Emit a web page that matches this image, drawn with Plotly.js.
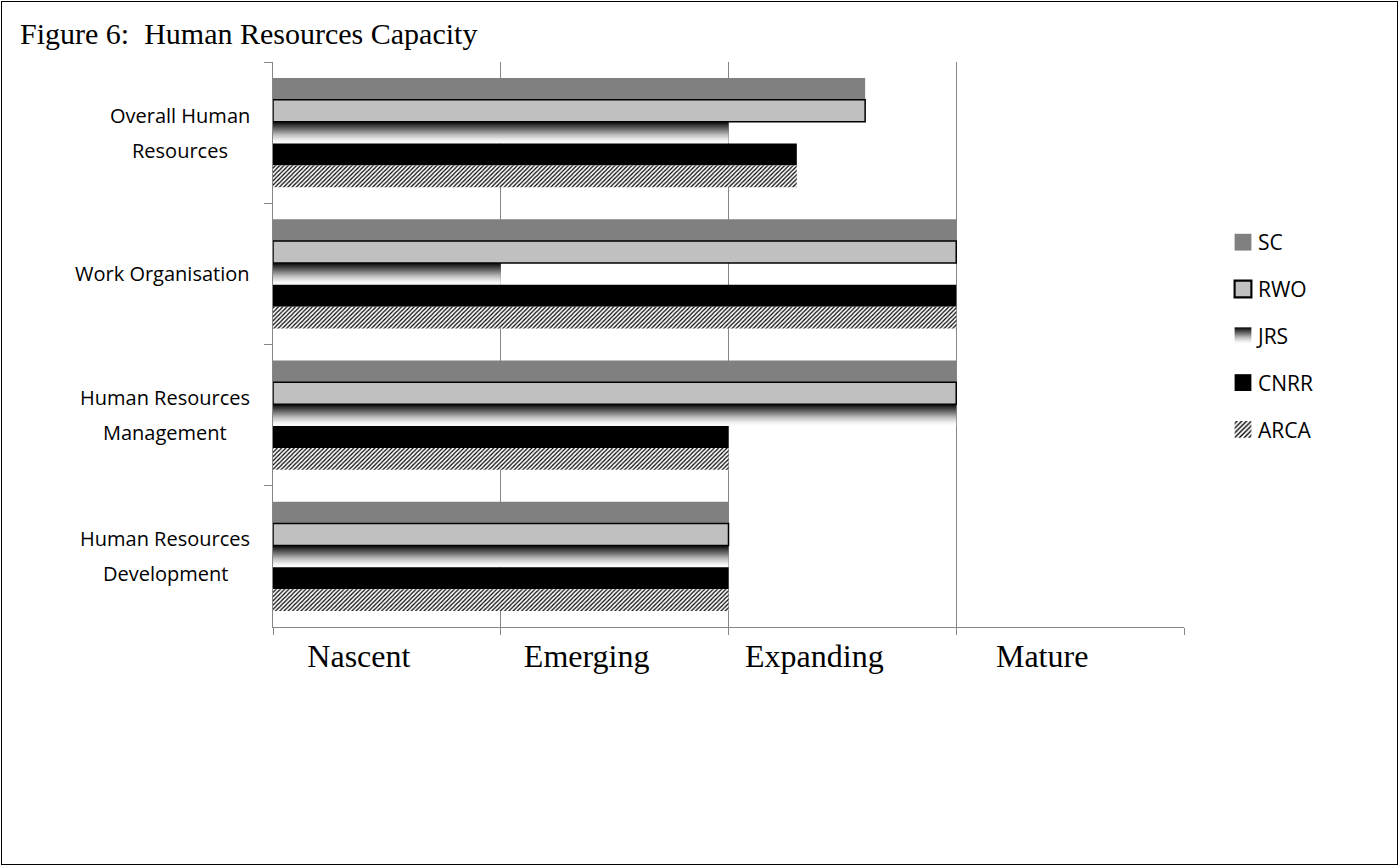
<!DOCTYPE html>
<html>
<head>
<meta charset="utf-8">
<script src="https://cdn.plot.ly/plotly-3.0.1.min.js"></script>
<style>
body{margin:0;background:#fff;}
#chart{width:1400px;height:867px;}
#frame{position:absolute;left:1px;top:1px;width:1395px;height:862px;border:1px solid #000;pointer-events:none;}
</style>
</head>
<body>
<div id="chart"></div>
<div id="frame"></div>
<script>
const categories = ['Overall Human Resources', 'Work Organisation', 'Human Resources Management', 'Human Resources Development'];
const categoryLabels = ['Overall Human<br>Resources', 'Work Organisation', 'Human Resources<br>Management', 'Human Resources<br>Development'];
const seriesNames = ['SC', 'RWO', 'JRS', 'CNRR', 'ARCA'];
const scValues = [2.6, 3, 3, 2];
const rwoValues = [2.6, 3, 3, 2];
const jrsValues = [2, 1, 3, 2];
const cnrrValues = [2.3, 3, 2, 2];
const arcaValues = [2.3, 3, 2, 2];
const stageLabels = ['Nascent', 'Emerging', 'Expanding', 'Mature'];
const stagePositions = [0.5, 1.5, 2.5, 3.5];
const stageBoundaries = [0, 1, 2, 3, 4];

const seriesValues = [scValues, rwoValues, jrsValues, cnrrValues, arcaValues];
const markers = [
  {color: '#808080', line: {width: 0}},
  {color: '#c0c0c0', line: {color: '#000000', width: 1.5}},
  {color: '#555555', line: {width: 0}},
  {color: '#000000', line: {width: 0}},
  {color: '#ffffff', line: {width: 0}, pattern: {shape: '/', fgcolor: '#000000', bgcolor: '#ffffff', size: 3, solidity: 0.4}}
];

const data = seriesNames.map((name, i) => ({
  type: 'bar',
  orientation: 'h',
  name: name,
  legendgroup: name,
  x: seriesValues[i],
  y: categories,
  marker: markers[i],
  hoverinfo: 'skip'
}));

const labelFont = {family: 'Open Sans, sans-serif', size: 20, color: '#000'};
const annotations = [];
const annGroups = [];
categories.forEach((c, i) => {
  const lines = categoryLabels[i].split('<br>');
  const gap = 35;
  const grp = [];
  lines.forEach((ln, k) => {
    grp.push(annotations.length);
    annotations.push({
      xref: 'paper', yref: 'y',
      x: -0.023, y: c,
      xanchor: 'right', yanchor: 'middle', align: 'center',
      yshift: ((lines.length - 1) / 2 - k) * gap,
      text: ln,
      showarrow: false,
      font: labelFont
    });
  });
  annGroups.push(grp);
});

const layout = {
  width: 1400, height: 867,
  margin: {l: 273, r: 216, t: 62, b: 240},
  paper_bgcolor: '#ffffff', plot_bgcolor: '#ffffff',
  barmode: 'group', bargap: 0.227, bargroupgap: 0,
  showlegend: true,
  title: {
    text: 'Figure 6:  Human Resources Capacity',
    font: {family: 'Liberation Serif, Times New Roman, serif', size: 30, color: '#000'},
    xref: 'container', yref: 'container', x: 20/1400, xanchor: 'left', y: 1 - 33/867, yanchor: 'middle'
  },
  xaxis: {
    range: [0, 4], fixedrange: true,
    tickmode: 'array', tickvals: stagePositions, ticktext: stageLabels,
    ticks: '', showgrid: false, zeroline: false,
    showline: true, linecolor: '#868686', linewidth: 1,
    ticklabelstandoff: 1, ticklabelshift: -28,
    tickfont: {family: 'Liberation Serif, Times New Roman, serif', size: 32, color: '#000'},
    minor: {tickmode: 'array', tickvals: stageBoundaries, ticks: 'outside', ticklen: 7, tickcolor: '#868686', showgrid: true, gridcolor: '#868686', gridwidth: 1}
  },
  yaxis: {
    type: 'category', autorange: 'reversed', fixedrange: true,
    showticklabels: false, tickson: 'boundaries', ticks: 'outside', ticklen: 8, tickcolor: '#868686',
    showgrid: false, zeroline: false, showline: true, linecolor: '#868686', linewidth: 1
  },
  legend: {
    x: (1218 - 273) / 911, xanchor: 'left', y: 0.515, yanchor: 'middle',
    traceorder: 'grouped', tracegroupgap: 16.5,
    font: {family: 'Open Sans, sans-serif', size: 21, color: '#000'},
    bgcolor: 'rgba(0,0,0,0)', itemwidth: 30
  },
  annotations: annotations
};

function decorate(gd) {
  const ns = 'http://www.w3.org/2000/svg';
  if (!document.getElementById('jrsGradient')) {
    const svg = gd.querySelector('svg.main-svg');
    let defs = svg.querySelector('defs');
    if (!defs) { defs = document.createElementNS(ns, 'defs'); svg.insertBefore(defs, svg.firstChild); }
    const lg = document.createElementNS(ns, 'linearGradient');
    lg.setAttribute('id', 'jrsGradient');
    lg.setAttribute('x1', '0'); lg.setAttribute('y1', '0');
    lg.setAttribute('x2', '0'); lg.setAttribute('y2', '1');
    [[0, '#000000'], [0.12, '#2a2a2a'], [0.35, '#6e6e6e'], [0.6, '#bcbcbc'], [0.85, '#f2f2f2'], [1, '#ffffff']].forEach(([o, c]) => {
      const s = document.createElementNS(ns, 'stop');
      s.setAttribute('offset', o); s.setAttribute('stop-color', c);
      lg.appendChild(s);
    });
    defs.appendChild(lg);
  }
  const barTraces = gd.querySelectorAll('.barlayer .trace');
  if (barTraces[2]) barTraces[2].querySelectorAll('path').forEach(p => { p.style.fill = 'url(#jrsGradient)'; });
  const legendTraces = gd.querySelectorAll('.legend .traces');
  legendTraces.forEach((t, i) => {
    const pts = t.querySelector('.legendpoints');
    if (pts) pts.setAttribute('transform', 'translate(25,0) scale(1.4) translate(-20,0)');
    if (i === 2) t.querySelectorAll('.legendpoints path').forEach(p => { p.style.fill = 'url(#jrsGradient)'; });
  });
}

Plotly.newPlot('chart', data, layout, {staticPlot: true, displayModeBar: false}).then(gd => {
  // centre the lines of each multi-line label on its widest line
  const texts = gd.querySelectorAll('.annotation .annotation-text');
  const widths = Array.from(texts).map(t => t.getBBox().width);
  const update = {};
  annGroups.forEach(grp => {
    const maxW = Math.max(...grp.map(j => widths[j] || 0));
    grp.forEach(j => { update['annotations[' + j + '].xshift'] = -((maxW - (widths[j] || 0)) / 2); });
  });
  return Plotly.relayout(gd, update);
}).then(gd => decorate(gd));
</script>
</body>
</html>
